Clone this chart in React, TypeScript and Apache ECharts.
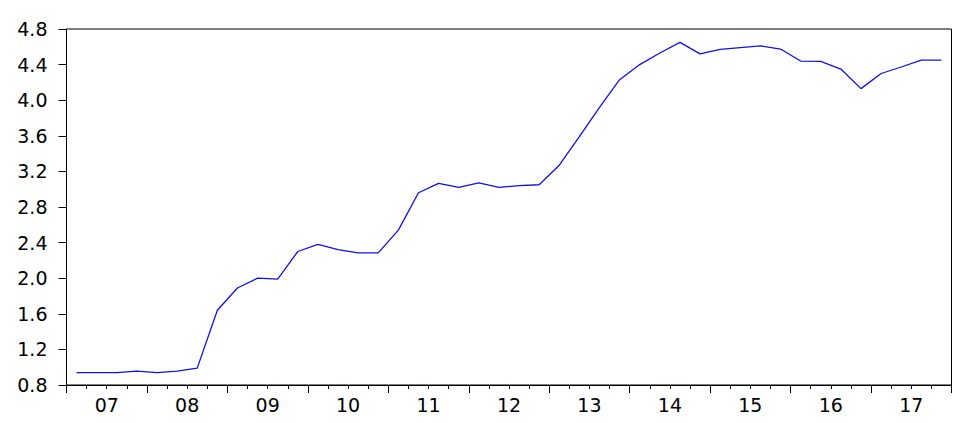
import React, { useEffect, useRef } from "react";
import * as echarts from "echarts";

const years = ["07", "08", "09", "10", "11", "12", "13", "14", "15", "16", "17"];
const quarters = years.flatMap((y) => ["Q1", "Q2", "Q3", "Q4"].map((q) => y + q));
const values = [
  0.94, 0.94, 0.94, 0.955, 0.94, 0.955, 0.99, 1.64,
  1.89, 2.0, 1.99, 2.3, 2.38, 2.32, 2.285, 2.285,
  2.54, 2.96, 3.065, 3.02, 3.07, 3.02, 3.04, 3.05,
  3.27, 3.59, 3.92, 4.23, 4.4, 4.53, 4.65, 4.52,
  4.57, 4.59, 4.61, 4.575, 4.44, 4.437, 4.35, 4.13,
  4.3, 4.373, 4.45, 4.45,
];
const yMin = 0.8;
const yMax = 4.8;
const yStep = 0.4;

const FONT = "DejaVu Sans, Verdana, sans-serif";

export default function App() {
  const ref = useRef<HTMLDivElement>(null);
  useEffect(() => {
    if (!ref.current) return;
    const chart = echarts.init(ref.current, undefined, { renderer: "svg" });
    chart.setOption({
      animation: false,
      backgroundColor: "#fff",
      grid: {
        left: 66.5,
        right: 18.5,
        top: 29,
        bottom: 38,
        show: true,
        borderColor: "#000",
        borderWidth: 1,
        backgroundColor: "transparent",
      },
      xAxis: [
        {
          type: "category",
          data: quarters,
          boundaryGap: true,
          position: "bottom",
          axisLine: { show: true, lineStyle: { color: "#000", width: 1 } },
          axisTick: { show: true, interval: 0, length: 4, lineStyle: { color: "#000" } },
          axisLabel: { show: false },
          splitLine: { show: false },
        },
        {
          type: "category",
          data: years,
          boundaryGap: true,
          position: "bottom",
          axisLine: { show: false },
          axisTick: { show: true, interval: 0, length: 8, lineStyle: { color: "#000" } },
          axisLabel: {
            show: true,
            interval: 0,
            color: "#000",
            fontSize: 19,
            fontFamily: FONT,
            margin: 10,
          },
          splitLine: { show: false },
        },
      ],
      yAxis: {
        type: "value",
        min: yMin,
        max: yMax,
        interval: yStep,
        axisLine: { show: true, lineStyle: { color: "#000", width: 1 } },
        axisTick: { show: true, length: 8, lineStyle: { color: "#000" } },
        axisLabel: {
          color: "#000",
          fontSize: 19,
          fontFamily: FONT,
          margin: 19,
          formatter: (v: number) => v.toFixed(1),
        },
        splitLine: { show: false },
      },
      series: [
        {
          type: "line",
          xAxisIndex: 0,
          data: values,
          symbol: "none",
          lineStyle: { color: "#1010ee", width: 1.3 },
        },
      ],
    });
    return () => chart.dispose();
  }, []);
  return (
    <div
      ref={ref}
      style={{ position: "absolute", left: 0, top: 0, width: 970, height: 423 }}
    />
  );
}
